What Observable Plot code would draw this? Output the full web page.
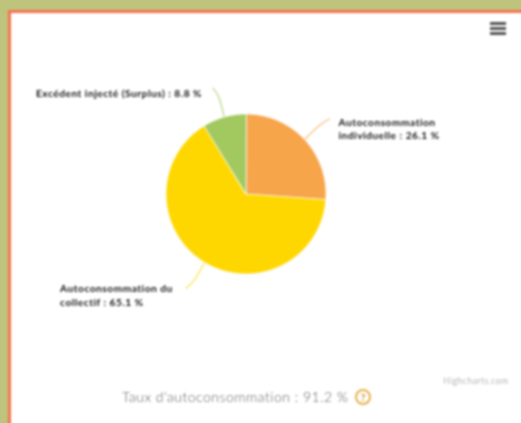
<!DOCTYPE html>
<html lang="fr">
<head>
<meta charset="utf-8">
<script src="https://cdn.jsdelivr.net/npm/d3@7"></script>
<script src="https://cdn.jsdelivr.net/npm/@observablehq/plot@0.6"></script>
<style>
html,body{margin:0;padding:0;width:521px;height:423px;overflow:hidden;background:#BFC47C}
#page{position:absolute;left:0;top:0;width:521px;height:423px;filter:blur(.8px)}
#frame{position:absolute;left:8px;top:10px;width:520px;height:420px;box-sizing:border-box;background:#fff;border-left:3px solid #F5734F;border-top:3px solid #F5734F}
#chart{position:absolute;left:0;top:0}
#chart svg{display:block;background:transparent}
#chart text{letter-spacing:.5px}
#menu{position:absolute;left:490px;top:22px;width:16px}
#menu i{display:block;height:3px;background:#555;margin-bottom:2px}
#caption{position:absolute;left:0;top:388px;width:521px;white-space:nowrap;font:300 14px/18px "Lato",sans-serif;color:#5f5f62}
#caption span.t{position:absolute;left:122px;letter-spacing:.5px}
#caption span.q{position:absolute;left:355px;top:1px;width:12px;height:12px;border:2px solid #E5B24A;border-radius:50%;font:700 10px/12px "Lato",sans-serif;color:#B98A20;text-align:center}
</style>
</head>
<body>
<div id="page">
  <div id="frame"></div>
  <div id="chart"></div>
  <div id="menu"><i></i><i></i><i></i></div>
  <div id="caption"><span class="t">Taux d'autoconsommation : 91.2 %</span><span class="q">?</span></div>
</div>
<script>
const categories = ["Autoconsommation individuelle", "Autoconsommation du collectif", "Excédent injecté (Surplus)"];
const shares = [26.1, 65.1, 8.8];
const colors = ["#F7A54B", "#FFD700", "#A2C95F"];
const labels = ["Autoconsommation\nindividuelle : 26.1 %", "Autoconsommation du\ncollectif : 65.1 %", "Excédent injecté (Surplus) : 8.8 %"];
const credit = "Highcharts.com";

// Layout: pie centre and radius in pixels; the x and y scales map unit-circle coordinates to them.
const W = 521, H = 385, CX = 245.5, CY = 193.5, R = 80;
const labelDx = [9, -126, -177], labelDy = [2, -1, 3];

const total = d3.sum(shares);
let cumulative = 0;
const slices = categories.map((name, i) => {
  const start = cumulative / total * 2 * Math.PI;
  cumulative += shares[i];
  const end = cumulative / total * 2 * Math.PI;
  return {name, start, end, mid: (start + end) / 2, label: labels[i], i};
});

const polar = (a, r) => [r * Math.sin(a), r * Math.cos(a)];

// Wedge outline: centre, then the arc at 1° steps.
const wedges = slices.flatMap(s => {
  const n = Math.max(2, Math.ceil((s.end - s.start) / (Math.PI / 180)));
  const pts = [{name: s.name, p: [0, 0]}];
  for (let k = 0; k <= n; k++) pts.push({name: s.name, p: polar(s.start + (s.end - s.start) * k / n, 1)});
  return pts;
});

// Connectors run from the rim to 30 px beyond it, nudged 3 px outwards horizontally.
const unit = 1 / R;
const connectorEnd = s => {
  const [x, y] = polar(s.mid, 1 + 30 * unit);
  return [x + Math.sign(x) * 3 * unit, y];
};
const connectors = slices.flatMap(s => [
  {name: s.name, p: polar(s.mid, 1)},
  {name: s.name, p: polar(s.mid, 1 + 22 * unit)},
  {name: s.name, p: connectorEnd(s)}
]);

const plot = Plot.plot({
  width: W, height: H,
  margin: 0,
  style: {background: "transparent", overflow: "visible"},
  x: {domain: [-CX / R, (W - CX) / R], range: [0, W], axis: null},
  y: {domain: [-(H - CY) / R, CY / R], range: [H, 0], axis: null},
  color: {type: "ordinal", domain: categories, range: colors},
  marks: [
    Plot.line(connectors, {x: d => d.p[0], y: d => d.p[1], z: "name", stroke: "name", strokeWidth: 1.3, strokeOpacity: .7, curve: "catmull-rom"}),
    Plot.line(wedges, {x: d => d.p[0], y: d => d.p[1], z: "name", fill: "name", stroke: "#fff", strokeWidth: 1, strokeOpacity: .75, curve: "linear-closed"}),
    ...slices.map((s, i) => Plot.text([s], {
      x: d => connectorEnd(d)[0], y: d => connectorEnd(d)[1], text: "label",
      textAnchor: "start", lineAnchor: "top",
      dx: labelDx[i], dy: labelDy[i] - 4,
      fontFamily: "Lato, sans-serif", fontWeight: 700, fontSize: 10.2, lineHeight: 1.29, fill: "#111"
    })),
    Plot.text([credit], {frameAnchor: "bottom-right", dx: -13, dy: -2, text: d => d, fontFamily: "Lato, sans-serif", fontSize: 8.5, fill: "#b4b4b4"})
  ]
});
document.getElementById("chart").appendChild(plot);
</script>
</body>
</html>
